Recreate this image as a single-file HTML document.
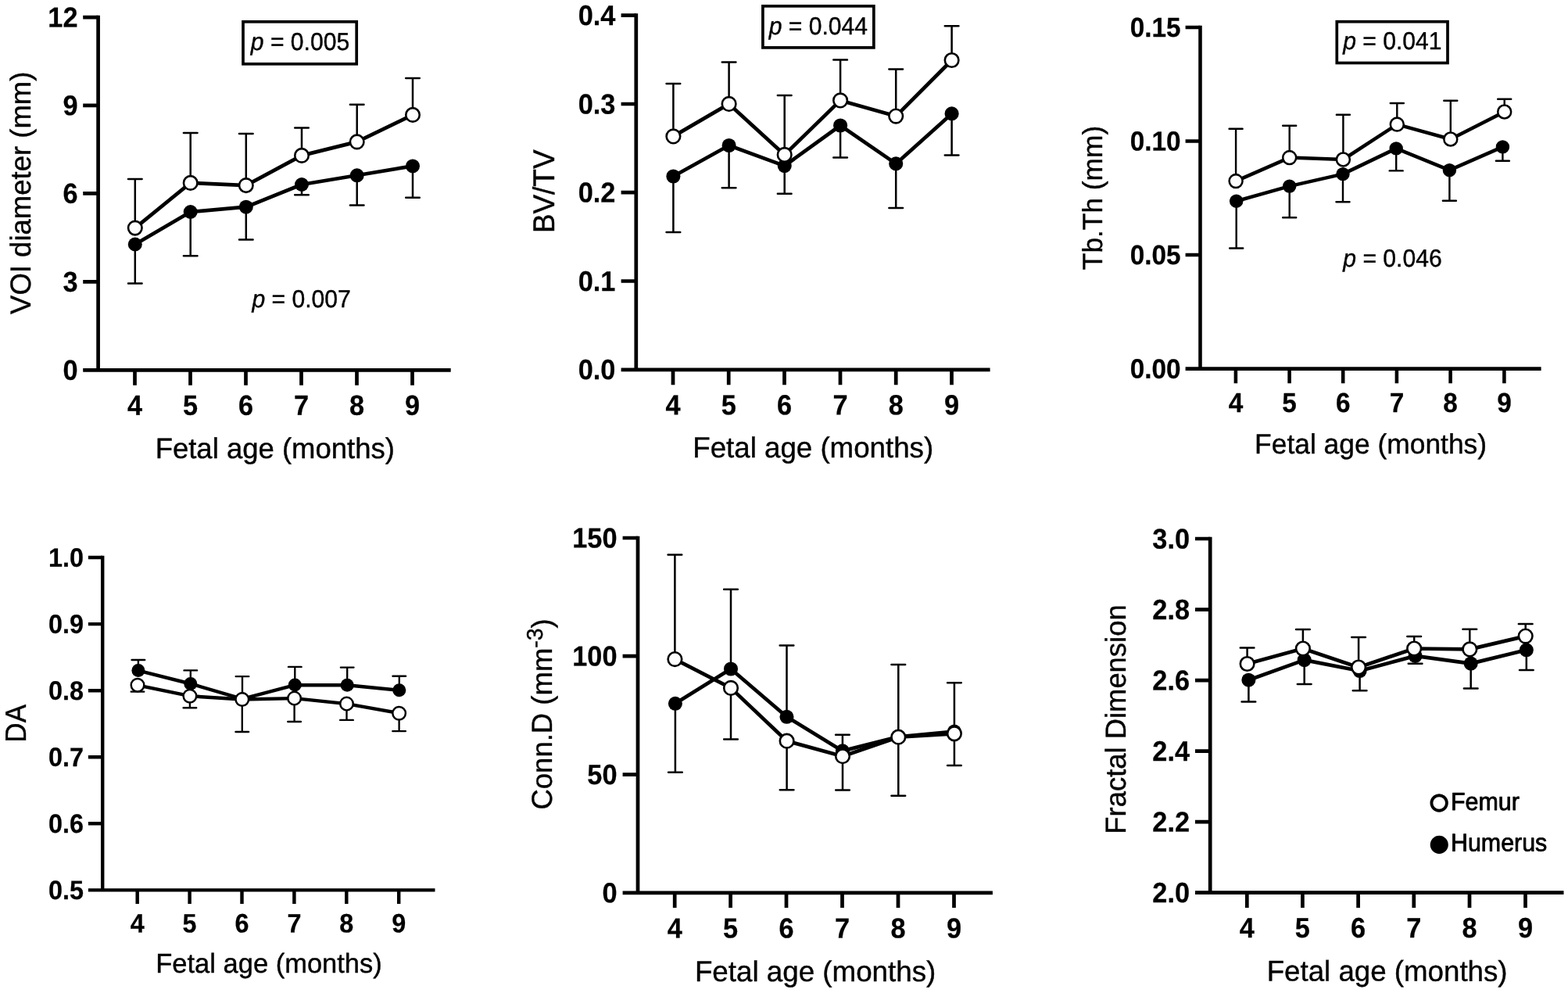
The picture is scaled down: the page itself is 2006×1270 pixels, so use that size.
<!DOCTYPE html>
<html lang="en">
<head>
<meta charset="utf-8">
<title>Trabecular bone parameters by fetal age</title>
<style>
html,body{margin:0;padding:0;background:#fff;}
body{width:2006px;height:1270px;overflow:hidden;}
svg{display:block;}
text{font-family:'Liberation Sans', sans-serif;fill:#000;stroke:#000;stroke-width:0.4px;stroke-linejoin:round;text-rendering:geometricPrecision;}
.tk{font-weight:700;stroke-width:0.25px;}
.lb{font-weight:400;}
.lg{font-weight:400;stroke-width:0.8px;}
.ax{fill:none;stroke:#000;stroke-linecap:butt;}
.eb{fill:none;stroke:#000;stroke-linecap:round;}
.ln{fill:none;stroke:#000;stroke-linejoin:round;stroke-linecap:round;}
.fc{fill:#000;}
.oc{fill:#fff;stroke:#000;}
.bx{fill:none;stroke:#000;stroke-width:3.7;}
</style>
</head>
<body>
<svg width="2006" height="1270" viewBox="0 0 2006 1270" role="img" aria-label="Six line charts of trabecular bone parameters against fetal age for femur and humerus">
<rect width="2006" height="1270" fill="#fff"/>
<g id="voi">
<path class="ax" stroke-width="4.7" d="M125.6 19.85V475.65M106.2 473.3H576.7"/>
<path class="ax" stroke-width="4.7" d="M106.2 22.2H125.6M106.2 134.8H125.6M106.2 247.4H125.6M106.2 360.3H125.6M172.5 473.3V492.8M243.5 473.3V492.8M314.5 473.3V492.8M385.5 473.3V492.8M456.5 473.3V492.8M527.5 473.3V492.8"/>
<text class="tk" font-size="35" text-anchor="end" transform="translate(99.5 34.6) rotate(0.03) scale(0.98 1.03)">12</text>
<text class="tk" font-size="35" text-anchor="end" transform="translate(99.5 147.2) rotate(0.03) scale(0.98 1.03)">9</text>
<text class="tk" font-size="35" text-anchor="end" transform="translate(99.5 259.8) rotate(0.03) scale(0.98 1.03)">6</text>
<text class="tk" font-size="35" text-anchor="end" transform="translate(99.5 372.7) rotate(0.03) scale(0.98 1.03)">3</text>
<text class="tk" font-size="35" text-anchor="end" transform="translate(99.5 485.7) rotate(0.03) scale(0.98 1.03)">0</text>
<text class="tk" font-size="35" text-anchor="middle" transform="translate(172.5 530.8) rotate(0.03) scale(0.98 1.03)">4</text>
<text class="tk" font-size="35" text-anchor="middle" transform="translate(243.5 530.8) rotate(0.03) scale(0.98 1.03)">5</text>
<text class="tk" font-size="35" text-anchor="middle" transform="translate(314.5 530.8) rotate(0.03) scale(0.98 1.03)">6</text>
<text class="tk" font-size="35" text-anchor="middle" transform="translate(385.5 530.8) rotate(0.03) scale(0.98 1.03)">7</text>
<text class="tk" font-size="35" text-anchor="middle" transform="translate(456.5 530.8) rotate(0.03) scale(0.98 1.03)">8</text>
<text class="tk" font-size="35" text-anchor="middle" transform="translate(527.5 530.8) rotate(0.03) scale(0.98 1.03)">9</text>
<text class="lb" font-size="36.5" text-anchor="middle" transform="translate(351.8 586) rotate(0.03) scale(1 1.01)">Fetal age (months)</text>
<text class="lb" font-size="36.5" text-anchor="middle" transform="translate(39 246.8) rotate(-90) scale(1 1.01)">VOI diameter (mm)</text>
<path class="eb" stroke-width="2.5" d="M172.8 291.6V229M164 229h17.6M243.7 233.9V170M234.9 170h17.6M314.8 237.1V170.9M306 170.9h17.6M386 198.9V163.5M377.2 163.5h17.6M456.7 181.4V133.8M447.9 133.8h17.6M528 146.9V99.9M519.2 99.9h17.6M172.8 312.5V362.5M164 362.5h17.6M243.7 271V327.3M234.9 327.3h17.6M314.8 264.7V306.4M306 306.4h17.6M386 236V249.2M377.2 249.2h17.6M456.7 224.3V262.4M447.9 262.4h17.6M528 212.4V252.8M519.2 252.8h17.6"/>
<path class="ln" stroke-width="4.7" d="M172.8 312.5L243.7 271L314.8 264.7L386 236L456.7 224.3L528 212.4"/>
<circle class="fc" cx="172.8" cy="312.5" r="9"/>
<circle class="fc" cx="243.7" cy="271" r="9"/>
<circle class="fc" cx="314.8" cy="264.7" r="9"/>
<circle class="fc" cx="386" cy="236" r="9"/>
<circle class="fc" cx="456.7" cy="224.3" r="9"/>
<circle class="fc" cx="528" cy="212.4" r="9"/>
<path class="ln" stroke-width="4.7" d="M172.8 291.6L243.7 233.9L314.8 237.1L386 198.9L456.7 181.4L528 146.9"/>
<circle class="oc" stroke-width="2.6" cx="172.8" cy="291.6" r="8.75"/>
<circle class="oc" stroke-width="2.6" cx="243.7" cy="233.9" r="8.75"/>
<circle class="oc" stroke-width="2.6" cx="314.8" cy="237.1" r="8.75"/>
<circle class="oc" stroke-width="2.6" cx="386" cy="198.9" r="8.75"/>
<circle class="oc" stroke-width="2.6" cx="456.7" cy="181.4" r="8.75"/>
<circle class="oc" stroke-width="2.6" cx="528" cy="146.9" r="8.75"/>
<rect class="bx" x="311" y="27.8" width="145.2" height="54"/>
<text class="lb" font-size="30.1" text-anchor="middle" transform="translate(384 64) rotate(0.03) scale(1 1.05)"><tspan font-style="italic">p</tspan> = 0.005</text>
<text class="lb" font-size="30.1" text-anchor="middle" transform="translate(385.6 393) rotate(0.03) scale(1 1.05)"><tspan font-style="italic">p</tspan> = 0.007</text>
</g>
<g id="bvtv">
<path class="ax" stroke-width="4.72" d="M813.8 17.34V475.16M794.6 472.8H1266.6"/>
<path class="ax" stroke-width="4.72" d="M794.6 19.7H813.8M794.6 133H813.8M794.6 246.2H813.8M794.6 359.5H813.8M861 472.8V492.3M932.2 472.8V492.3M1003.5 472.8V492.3M1075 472.8V492.3M1146.2 472.8V492.3M1217.5 472.8V492.3"/>
<text class="tk" font-size="35" text-anchor="end" transform="translate(787.4 32.1) rotate(0.03) scale(0.98 1.03)">0.4</text>
<text class="tk" font-size="35" text-anchor="end" transform="translate(787.4 145.4) rotate(0.03) scale(0.98 1.03)">0.3</text>
<text class="tk" font-size="35" text-anchor="end" transform="translate(787.4 258.6) rotate(0.03) scale(0.98 1.03)">0.2</text>
<text class="tk" font-size="35" text-anchor="end" transform="translate(787.4 371.9) rotate(0.03) scale(0.98 1.03)">0.1</text>
<text class="tk" font-size="35" text-anchor="end" transform="translate(787.4 485.1) rotate(0.03) scale(0.98 1.03)">0.0</text>
<text class="tk" font-size="35" text-anchor="middle" transform="translate(861 530.3) rotate(0.03) scale(0.98 1.03)">4</text>
<text class="tk" font-size="35" text-anchor="middle" transform="translate(932.2 530.3) rotate(0.03) scale(0.98 1.03)">5</text>
<text class="tk" font-size="35" text-anchor="middle" transform="translate(1003.5 530.3) rotate(0.03) scale(0.98 1.03)">6</text>
<text class="tk" font-size="35" text-anchor="middle" transform="translate(1075 530.3) rotate(0.03) scale(0.98 1.03)">7</text>
<text class="tk" font-size="35" text-anchor="middle" transform="translate(1146.2 530.3) rotate(0.03) scale(0.98 1.03)">8</text>
<text class="tk" font-size="35" text-anchor="middle" transform="translate(1217.5 530.3) rotate(0.03) scale(0.98 1.03)">9</text>
<text class="lb" font-size="36.7" text-anchor="middle" transform="translate(1040.2 585) rotate(0.03) scale(1 1.01)">Fetal age (months)</text>
<text class="lb" font-size="36.9" text-anchor="middle" transform="translate(708.5 244.8) rotate(-90) scale(1 1.045)">BV/TV</text>
<path class="eb" stroke-width="2.51" d="M861.4 174.4V107M852.56 107h17.69M932.6 132.9V79.4M923.76 79.4h17.69M1003.7 197.9V122.1M994.86 122.1h17.69M1075.1 128.4V76.5M1066.26 76.5h17.69M1146.2 148.6V88.6M1137.36 88.6h17.69M1217.6 77V33.2M1208.76 33.2h17.69M861.4 225.5V296.9M852.56 296.9h17.69M932.6 186V240.3M923.76 240.3h17.69M1003.7 212.1V247.7M994.86 247.7h17.69M1075.1 160.5V201.5M1066.26 201.5h17.69M1146.2 209.4V266.1M1137.36 266.1h17.69M1217.6 145.4V198.4M1208.76 198.4h17.69"/>
<path class="ln" stroke-width="4.72" d="M861.4 225.5L932.6 186L1003.7 212.1L1075.1 160.5L1146.2 209.4L1217.6 145.4"/>
<circle class="fc" cx="861.4" cy="225.5" r="9.04"/>
<circle class="fc" cx="932.6" cy="186" r="9.04"/>
<circle class="fc" cx="1003.7" cy="212.1" r="9.04"/>
<circle class="fc" cx="1075.1" cy="160.5" r="9.04"/>
<circle class="fc" cx="1146.2" cy="209.4" r="9.04"/>
<circle class="fc" cx="1217.6" cy="145.4" r="9.04"/>
<path class="ln" stroke-width="4.72" d="M861.4 174.4L932.6 132.9L1003.7 197.9L1075.1 128.4L1146.2 148.6L1217.6 77"/>
<circle class="oc" stroke-width="2.61" cx="861.4" cy="174.4" r="8.79"/>
<circle class="oc" stroke-width="2.61" cx="932.6" cy="132.9" r="8.79"/>
<circle class="oc" stroke-width="2.61" cx="1003.7" cy="197.9" r="8.79"/>
<circle class="oc" stroke-width="2.61" cx="1075.1" cy="128.4" r="8.79"/>
<circle class="oc" stroke-width="2.61" cx="1146.2" cy="148.6" r="8.79"/>
<circle class="oc" stroke-width="2.61" cx="1217.6" cy="77" r="8.79"/>
<rect class="bx" x="975.9" y="7.8" width="141.95" height="53.1"/>
<text class="lb" font-size="30.1" text-anchor="middle" transform="translate(1046.8 44.1) rotate(0.03) scale(1 1.05)"><tspan font-style="italic">p</tspan> = 0.044</text>
</g>
<g id="tbth">
<path class="ax" stroke-width="4.55" d="M1535.5 32.72V473.88M1516.6 471.6H1971.6"/>
<path class="ax" stroke-width="4.55" d="M1516.6 35H1535.5M1516.6 180.5H1535.5M1516.6 326H1535.5M1580.9 471.6V490.2M1649.6 471.6V490.2M1718.2 471.6V490.2M1786.9 471.6V490.2M1855.6 471.6V490.2M1924.4 471.6V490.2"/>
<text class="tk" font-size="34" text-anchor="end" transform="translate(1510.6 47.05) rotate(0.03) scale(0.98 1.03)">0.15</text>
<text class="tk" font-size="34" text-anchor="end" transform="translate(1510.6 192.55) rotate(0.03) scale(0.98 1.03)">0.10</text>
<text class="tk" font-size="34" text-anchor="end" transform="translate(1510.6 338.05) rotate(0.03) scale(0.98 1.03)">0.05</text>
<text class="tk" font-size="34" text-anchor="end" transform="translate(1510.6 483.65) rotate(0.03) scale(0.98 1.03)">0.00</text>
<text class="tk" font-size="34" text-anchor="middle" transform="translate(1580.9 526.9) rotate(0.03) scale(0.98 1.03)">4</text>
<text class="tk" font-size="34" text-anchor="middle" transform="translate(1649.6 526.9) rotate(0.03) scale(0.98 1.03)">5</text>
<text class="tk" font-size="34" text-anchor="middle" transform="translate(1718.2 526.9) rotate(0.03) scale(0.98 1.03)">6</text>
<text class="tk" font-size="34" text-anchor="middle" transform="translate(1786.9 526.9) rotate(0.03) scale(0.98 1.03)">7</text>
<text class="tk" font-size="34" text-anchor="middle" transform="translate(1855.6 526.9) rotate(0.03) scale(0.98 1.03)">8</text>
<text class="tk" font-size="34" text-anchor="middle" transform="translate(1924.4 526.9) rotate(0.03) scale(0.98 1.03)">9</text>
<text class="lb" font-size="35.4" text-anchor="middle" transform="translate(1753.6 580) rotate(0.03) scale(1 1.01)">Fetal age (months)</text>
<text class="lb" font-size="35.3" text-anchor="middle" transform="translate(1410 253) rotate(-90) scale(1 1.01)">Tb.Th (mm)</text>
<path class="eb" stroke-width="2.42" d="M1581.1 231.6V164.8M1572.57 164.8h17.05M1649.7 201.6V160.7M1641.17 160.7h17.05M1718.4 204V146.8M1709.87 146.8h17.05M1787.3 159.1V132M1778.77 132h17.05M1855.8 178V128.8M1847.27 128.8h17.05M1924.7 143V126.8M1916.17 126.8h17.05M1581.7 257.2V317.5M1573.17 317.5h17.05M1649.7 238.1V278.3M1641.17 278.3h17.05M1718 222.6V258.3M1709.47 258.3h17.05M1786.2 189.9V218.4M1777.67 218.4h17.05M1854.4 217.7V256.8M1845.87 256.8h17.05M1922.4 187.9V205.8M1913.87 205.8h17.05"/>
<path class="ln" stroke-width="4.55" d="M1581.7 257.2L1649.7 238.1L1718 222.6L1786.2 189.9L1854.4 217.7L1922.4 187.9"/>
<circle class="fc" cx="1581.7" cy="257.2" r="8.72"/>
<circle class="fc" cx="1649.7" cy="238.1" r="8.72"/>
<circle class="fc" cx="1718" cy="222.6" r="8.72"/>
<circle class="fc" cx="1786.2" cy="189.9" r="8.72"/>
<circle class="fc" cx="1854.4" cy="217.7" r="8.72"/>
<circle class="fc" cx="1922.4" cy="187.9" r="8.72"/>
<path class="ln" stroke-width="4.55" d="M1581.1 231.6L1649.7 201.6L1718.4 204L1787.3 159.1L1855.8 178L1924.7 143"/>
<circle class="oc" stroke-width="2.52" cx="1581.1" cy="231.6" r="8.48"/>
<circle class="oc" stroke-width="2.52" cx="1649.7" cy="201.6" r="8.48"/>
<circle class="oc" stroke-width="2.52" cx="1718.4" cy="204" r="8.48"/>
<circle class="oc" stroke-width="2.52" cx="1787.3" cy="159.1" r="8.48"/>
<circle class="oc" stroke-width="2.52" cx="1855.8" cy="178" r="8.48"/>
<circle class="oc" stroke-width="2.52" cx="1924.7" cy="143" r="8.48"/>
<rect class="bx" x="1710.3" y="27.7" width="141.7" height="52.8"/>
<text class="lb" font-size="30.1" text-anchor="middle" transform="translate(1781.3 63) rotate(0.03) scale(1 1.05)"><tspan font-style="italic">p</tspan> = 0.041</text>
<text class="lb" font-size="30.1" text-anchor="middle" transform="translate(1781.5 341) rotate(0.03) scale(1 1.05)"><tspan font-style="italic">p</tspan> = 0.046</text>
</g>
<g id="da">
<path class="ax" stroke-width="4.44" d="M131.2 710.78V1140.62M112.9 1138.4H556.5"/>
<path class="ax" stroke-width="4.44" d="M112.9 713H131.2M112.9 798.1H131.2M112.9 883.2H131.2M112.9 968.2H131.2M112.9 1053.3H131.2M175.7 1138.4V1156.1M242.6 1138.4V1156.1M309.5 1138.4V1156.1M376.4 1138.4V1156.1M443.3 1138.4V1156.1M510.2 1138.4V1156.1"/>
<text class="tk" font-size="33" text-anchor="end" transform="translate(106.9 724.69) rotate(0.03) scale(0.98 1.03)">1.0</text>
<text class="tk" font-size="33" text-anchor="end" transform="translate(106.9 809.79) rotate(0.03) scale(0.98 1.03)">0.9</text>
<text class="tk" font-size="33" text-anchor="end" transform="translate(106.9 894.89) rotate(0.03) scale(0.98 1.03)">0.8</text>
<text class="tk" font-size="33" text-anchor="end" transform="translate(106.9 979.89) rotate(0.03) scale(0.98 1.03)">0.7</text>
<text class="tk" font-size="33" text-anchor="end" transform="translate(106.9 1064.99) rotate(0.03) scale(0.98 1.03)">0.6</text>
<text class="tk" font-size="33" text-anchor="end" transform="translate(106.9 1150.09) rotate(0.03) scale(0.98 1.03)">0.5</text>
<text class="tk" font-size="33" text-anchor="middle" transform="translate(175.7 1192.5) rotate(0.03) scale(0.98 1.03)">4</text>
<text class="tk" font-size="33" text-anchor="middle" transform="translate(242.6 1192.5) rotate(0.03) scale(0.98 1.03)">5</text>
<text class="tk" font-size="33" text-anchor="middle" transform="translate(309.5 1192.5) rotate(0.03) scale(0.98 1.03)">6</text>
<text class="tk" font-size="33" text-anchor="middle" transform="translate(376.4 1192.5) rotate(0.03) scale(0.98 1.03)">7</text>
<text class="tk" font-size="33" text-anchor="middle" transform="translate(443.3 1192.5) rotate(0.03) scale(0.98 1.03)">8</text>
<text class="tk" font-size="33" text-anchor="middle" transform="translate(510.2 1192.5) rotate(0.03) scale(0.98 1.03)">9</text>
<text class="lb" font-size="34.5" text-anchor="middle" transform="translate(344 1244) rotate(0.03) scale(1 1.01)">Fetal age (months)</text>
<text class="lb" font-size="35.1" text-anchor="middle" transform="translate(32.9 925.3) rotate(-90) scale(1 1.07)">DA</text>
<path class="eb" stroke-width="2.36" d="M176 876.3V884.6M167.68 884.6h16.63M242.9 890.2V905.2M234.58 905.2h16.63M309.8 894.5V936M301.48 936h16.63M376.6 893.1V923M368.28 923h16.63M443.5 900.1V920.9M435.18 920.9h16.63M510.6 912.2V935.1M502.28 935.1h16.63M176.9 857.6V844M168.58 844h16.63M243.8 874.5V857.4M235.48 857.4h16.63M310 893.8V865.1M301.68 865.1h16.63M377.3 876.1V852.9M368.98 852.9h16.63M444.2 876.3V853.6M435.88 853.6h16.63M510.8 882.8V864.8M502.48 864.8h16.63"/>
<path class="ln" stroke-width="4.44" d="M176.9 857.6L243.8 874.5L310 893.8L377.3 876.1L444.2 876.3L510.8 882.8"/>
<circle class="fc" cx="176.9" cy="857.6" r="8.5"/>
<circle class="fc" cx="243.8" cy="874.5" r="8.5"/>
<circle class="fc" cx="310" cy="893.8" r="8.5"/>
<circle class="fc" cx="377.3" cy="876.1" r="8.5"/>
<circle class="fc" cx="444.2" cy="876.3" r="8.5"/>
<circle class="fc" cx="510.8" cy="882.8" r="8.5"/>
<path class="ln" stroke-width="4.44" d="M176 876.3L242.9 890.2L309.8 894.5L376.6 893.1L443.5 900.1L510.6 912.2"/>
<circle class="oc" stroke-width="2.46" cx="176" cy="876.3" r="8.27"/>
<circle class="oc" stroke-width="2.46" cx="242.9" cy="890.2" r="8.27"/>
<circle class="oc" stroke-width="2.46" cx="309.8" cy="894.5" r="8.27"/>
<circle class="oc" stroke-width="2.46" cx="376.6" cy="893.1" r="8.27"/>
<circle class="oc" stroke-width="2.46" cx="443.5" cy="900.1" r="8.27"/>
<circle class="oc" stroke-width="2.46" cx="510.6" cy="912.2" r="8.27"/>
</g>
<g id="conn">
<path class="ax" stroke-width="4.72" d="M816 685.64V1144.26M796.6 1141.9H1269.9"/>
<path class="ax" stroke-width="4.72" d="M796.6 688H816M796.6 839.2H816M796.6 990.6H816M863.2 1141.9V1161M934.6 1141.9V1161M1006 1141.9V1161M1077.5 1141.9V1161M1149 1141.9V1161M1220.5 1141.9V1161"/>
<text class="tk" font-size="35" text-anchor="end" transform="translate(789.5 700.4) rotate(0.03) scale(0.98 1.03)">150</text>
<text class="tk" font-size="35" text-anchor="end" transform="translate(789.5 851.6) rotate(0.03) scale(0.98 1.03)">100</text>
<text class="tk" font-size="35" text-anchor="end" transform="translate(789.5 1003) rotate(0.03) scale(0.98 1.03)">50</text>
<text class="tk" font-size="35" text-anchor="end" transform="translate(789.5 1154.3) rotate(0.03) scale(0.98 1.03)">0</text>
<text class="tk" font-size="35" text-anchor="middle" transform="translate(863.2 1199.4) rotate(0.03) scale(0.98 1.03)">4</text>
<text class="tk" font-size="35" text-anchor="middle" transform="translate(934.6 1199.4) rotate(0.03) scale(0.98 1.03)">5</text>
<text class="tk" font-size="35" text-anchor="middle" transform="translate(1006 1199.4) rotate(0.03) scale(0.98 1.03)">6</text>
<text class="tk" font-size="35" text-anchor="middle" transform="translate(1077.5 1199.4) rotate(0.03) scale(0.98 1.03)">7</text>
<text class="tk" font-size="35" text-anchor="middle" transform="translate(1149 1199.4) rotate(0.03) scale(0.98 1.03)">8</text>
<text class="tk" font-size="35" text-anchor="middle" transform="translate(1220.5 1199.4) rotate(0.03) scale(0.98 1.03)">9</text>
<text class="lb" font-size="36.75" text-anchor="middle" transform="translate(1043.1 1255) rotate(0.03) scale(1 1.01)">Fetal age (months)</text>
<text class="lb" font-size="36.5" text-anchor="middle" transform="translate(706.3 913.4) rotate(-90) scale(1 1.01)">Conn.D (mm<tspan font-size="28.47" dy="-12.59">-3</tspan><tspan dy="12.59">)</tspan></text>
<path class="eb" stroke-width="2.51" d="M863.4 843.1V709.5M854.56 709.5h17.69M935 879.9V945.5M926.16 945.5h17.69M1006.6 947.7V1010.3M997.76 1010.3h17.69M1078 967.2V1010.5M1069.16 1010.5h17.69M1149.3 942.7V1017.7M1140.46 1017.7h17.69M1220.9 938.3V979M1212.06 979h17.69M863.9 899.8V987.8M855.06 987.8h17.69M935 855.5V753.7M926.16 753.7h17.69M1006.5 916.8V825.5M997.66 825.5h17.69M1077.9 960.4V939.7M1069.06 939.7h17.69M1149.3 942.3V850M1140.46 850h17.69M1220.9 935.6V873.2M1212.06 873.2h17.69"/>
<path class="ln" stroke-width="4.72" d="M863.9 899.8L935 855.5L1006.5 916.8L1077.9 960.4L1149.3 942.3L1220.9 935.6"/>
<circle class="fc" cx="863.9" cy="899.8" r="9.04"/>
<circle class="fc" cx="935" cy="855.5" r="9.04"/>
<circle class="fc" cx="1006.5" cy="916.8" r="9.04"/>
<circle class="fc" cx="1077.9" cy="960.4" r="9.04"/>
<circle class="fc" cx="1149.3" cy="942.3" r="9.04"/>
<circle class="fc" cx="1220.9" cy="935.6" r="9.04"/>
<path class="ln" stroke-width="4.72" d="M863.4 843.1L935 879.9L1006.6 947.7L1078 967.2L1149.3 942.7L1220.9 938.3"/>
<circle class="oc" stroke-width="2.61" cx="863.4" cy="843.1" r="8.79"/>
<circle class="oc" stroke-width="2.61" cx="935" cy="879.9" r="8.79"/>
<circle class="oc" stroke-width="2.61" cx="1006.6" cy="947.7" r="8.79"/>
<circle class="oc" stroke-width="2.61" cx="1078" cy="967.2" r="8.79"/>
<circle class="oc" stroke-width="2.61" cx="1149.3" cy="942.7" r="8.79"/>
<circle class="oc" stroke-width="2.61" cx="1220.9" cy="938.3" r="8.79"/>
</g>
<g id="fd">
<path class="ax" stroke-width="4.72" d="M1548.2 686.64V1144.06M1529 1141.7H2000.5"/>
<path class="ax" stroke-width="4.72" d="M1529 689H1548.2M1529 779.6H1548.2M1529 870.1H1548.2M1529 960.6H1548.2M1529 1051.2H1548.2M1595.3 1141.7V1161M1666.4 1141.7V1161M1737.6 1141.7V1161M1808.8 1141.7V1161M1880 1141.7V1161M1951.5 1141.7V1161"/>
<text class="tk" font-size="35" text-anchor="end" transform="translate(1522 701.4) rotate(0.03) scale(0.98 1.03)">3.0</text>
<text class="tk" font-size="35" text-anchor="end" transform="translate(1522 792) rotate(0.03) scale(0.98 1.03)">2.8</text>
<text class="tk" font-size="35" text-anchor="end" transform="translate(1522 882.5) rotate(0.03) scale(0.98 1.03)">2.6</text>
<text class="tk" font-size="35" text-anchor="end" transform="translate(1522 973) rotate(0.03) scale(0.98 1.03)">2.4</text>
<text class="tk" font-size="35" text-anchor="end" transform="translate(1522 1063.6) rotate(0.03) scale(0.98 1.03)">2.2</text>
<text class="tk" font-size="35" text-anchor="end" transform="translate(1522 1154.1) rotate(0.03) scale(0.98 1.03)">2.0</text>
<text class="tk" font-size="35" text-anchor="middle" transform="translate(1595.3 1199) rotate(0.03) scale(0.98 1.03)">4</text>
<text class="tk" font-size="35" text-anchor="middle" transform="translate(1666.4 1199) rotate(0.03) scale(0.98 1.03)">5</text>
<text class="tk" font-size="35" text-anchor="middle" transform="translate(1737.6 1199) rotate(0.03) scale(0.98 1.03)">6</text>
<text class="tk" font-size="35" text-anchor="middle" transform="translate(1808.8 1199) rotate(0.03) scale(0.98 1.03)">7</text>
<text class="tk" font-size="35" text-anchor="middle" transform="translate(1880 1199) rotate(0.03) scale(0.98 1.03)">8</text>
<text class="tk" font-size="35" text-anchor="middle" transform="translate(1951.5 1199) rotate(0.03) scale(0.98 1.03)">9</text>
<text class="lb" font-size="36.7" text-anchor="middle" transform="translate(1774.6 1254.6) rotate(0.03) scale(1 1.01)">Fetal age (months)</text>
<text class="lb" font-size="36.4" text-anchor="middle" transform="translate(1439.9 920) rotate(-90) scale(1 1.01)">Fractal Dimension</text>
<path class="eb" stroke-width="2.51" d="M1595.6 849V828.6M1586.76 828.6h17.69M1666.9 829.5V805.1M1658.06 805.1h17.69M1738.1 853.5V814.9M1729.26 814.9h17.69M1809.2 829.5V814M1800.36 814h17.69M1880.3 830.4V804.8M1871.46 804.8h17.69M1951.7 813.6V797.9M1942.86 797.9h17.69M1597.4 869.7V897.5M1588.56 897.5h17.69M1668.7 844.1V875.1M1659.86 875.1h17.69M1739.6 858V883.2M1730.76 883.2h17.69M1810.6 838.9V848.8M1801.76 848.8h17.69M1881.7 848.6V880.5M1872.86 880.5h17.69M1952.8 831.3V857.1M1943.96 857.1h17.69"/>
<path class="ln" stroke-width="4.72" d="M1597.4 869.7L1668.7 844.1L1739.6 858L1810.6 838.9L1881.7 848.6L1952.8 831.3"/>
<circle class="fc" cx="1597.4" cy="869.7" r="9.04"/>
<circle class="fc" cx="1668.7" cy="844.1" r="9.04"/>
<circle class="fc" cx="1739.6" cy="858" r="9.04"/>
<circle class="fc" cx="1810.6" cy="838.9" r="9.04"/>
<circle class="fc" cx="1881.7" cy="848.6" r="9.04"/>
<circle class="fc" cx="1952.8" cy="831.3" r="9.04"/>
<path class="ln" stroke-width="4.72" d="M1595.6 849L1666.9 829.5L1738.1 853.5L1809.2 829.5L1880.3 830.4L1951.7 813.6"/>
<circle class="oc" stroke-width="2.61" cx="1595.6" cy="849" r="8.79"/>
<circle class="oc" stroke-width="2.61" cx="1666.9" cy="829.5" r="8.79"/>
<circle class="oc" stroke-width="2.61" cx="1738.1" cy="853.5" r="8.79"/>
<circle class="oc" stroke-width="2.61" cx="1809.2" cy="829.5" r="8.79"/>
<circle class="oc" stroke-width="2.61" cx="1880.3" cy="830.4" r="8.79"/>
<circle class="oc" stroke-width="2.61" cx="1951.7" cy="813.6" r="8.79"/>
</g>
<g id="legend">
<circle class="oc" stroke-width="3.8" cx="1841.15" cy="1027" r="9.75"/>
<text class="lg" font-size="30.4" text-anchor="start" transform="translate(1856 1036) rotate(0.03) scale(1 1.05)">Femur</text>
<circle class="fc" cx="1841.25" cy="1080.35" r="11.55"/>
<text class="lg" font-size="30.4" text-anchor="start" transform="translate(1856 1088.5) rotate(0.03) scale(1 1.05)">Humerus</text>
</g>
</svg>
</body>
</html>
